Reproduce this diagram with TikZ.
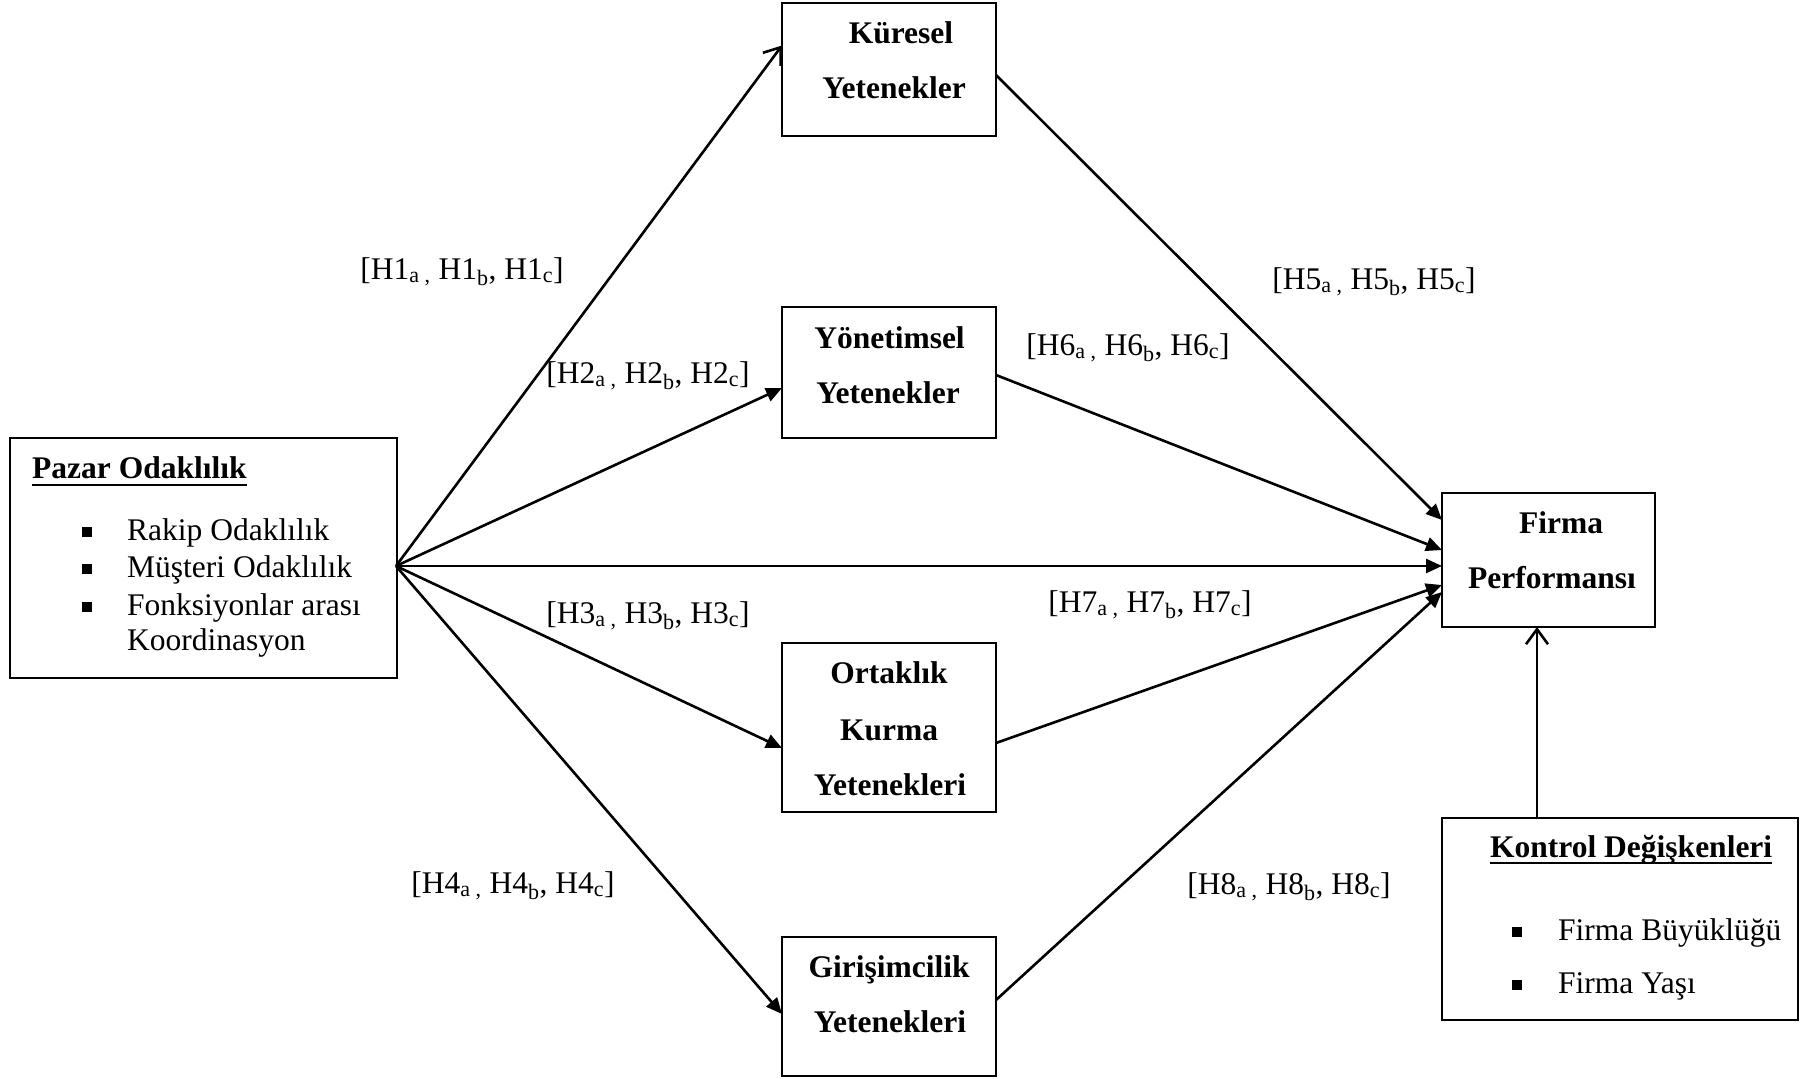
\documentclass[tikz,border=0pt]{standalone}
\usepackage{fontspec}
\setmainfont{Liberation Serif}
\usetikzlibrary{arrows.meta}
\begin{document}
\begin{tikzpicture}[x=1pt,y=-1pt,
  box/.style={draw, line width=2.6pt, inner sep=0pt, outer sep=0pt},
  ttl/.style={font=\fontsize{31.5}{38}\selectfont\bfseries, inner sep=0pt, anchor=base},
  ttlw/.style={font=\fontsize{31.5}{38}\selectfont\bfseries, inner sep=0pt, anchor=base west},
  txt/.style={font=\fontsize{31.5}{38}\selectfont, inner sep=0pt, anchor=base west},
  hyp/.style={font=\fontsize{31.5}{38}\selectfont, inner sep=0pt, anchor=base},
  arr/.style={line width=2.6pt, -{Triangle[length=16pt,width=14pt]}},
  openarr/.style={line width=2.6pt, -{Straight Barb[length=15pt,width=22pt]}},
  uline/.style={line width=2.2pt}]
\fill[white] (0,0) rectangle (1802,1079);
\useasboundingbox (0,0) rectangle (1802,1079);

% boxes
\node[box, minimum width=387pt, minimum height=240pt] (paz) at (203.5,558) {};
\node[box, minimum width=214pt, minimum height=133pt] (kur) at (889,69.5) {};
\node[box, minimum width=214pt, minimum height=131pt] (yon) at (889,372.5) {};
\node[box, minimum width=214pt, minimum height=169pt] (ort) at (889,727.5) {};
\node[box, minimum width=214pt, minimum height=139pt] (gir) at (889,1006.5) {};
\node[box, minimum width=213pt, minimum height=134pt] (fir) at (1548.5,560) {};
\node[box, minimum width=356pt, minimum height=202pt] (kon) at (1620,919) {};

% box texts
\node[ttl] (kur1) at (901,43) {Küresel};
\node[ttl] (kur2) at (894,98) {Yetenekler};
\node[ttl] (yon1) at (889.5,348) {Yönetimsel};
\node[ttl] (yon2) at (888,403) {Yetenekler};
\node[ttl] (ort1) at (889,683) {Ortaklık};
\node[ttl] (ort2) at (889,740) {Kurma};
\node[ttl] (ort3) at (890,795) {Yetenekleri};
\node[ttl] (gir1) at (889,977) {Girişimcilik};
\node[ttl] (gir2) at (890,1032) {Yetenekleri};
\node[ttl] (fir1) at (1561,533) {Firma};
\node[ttl] (fir2) at (1552,588) {Performansı};

% Pazar Odaklilik
\node[ttlw] (pazt) at (32,478) {Pazar Odaklılık};
\draw[uline] ([yshift=-7pt]pazt.base west) -- ([yshift=-7pt]pazt.base east);
\node[txt] (paz1) at (82,540) {\rule[3pt]{10pt}{10pt}\hspace{35pt}Rakip Odaklılık};
\node[txt] (paz2) at (82,577) {\rule[3pt]{10pt}{10pt}\hspace{35pt}Müşteri Odaklılık};
\node[txt] (paz3) at (82,615) {\rule[3pt]{10pt}{10pt}\hspace{35pt}Fonksiyonlar arası};
\node[txt] (paz4) at (127,650) {Koordinasyon};

% Kontrol
\node[ttlw] (kont) at (1490,857) {Kontrol Değişkenleri};
\draw[uline] ([yshift=-6pt]kont.base west) -- ([yshift=-6pt]kont.base east);
\node[txt] (kon1) at (1512,940) {\rule[3pt]{10pt}{10pt}\hspace{36pt}Firma Büyüklüğü};
\node[txt] (kon2) at (1512,993) {\rule[3pt]{10pt}{10pt}\hspace{36pt}Firma Yaşı};

% hypothesis labels
\node[hyp] (h1) at (462,279) {[H1\textsubscript{a ,} H1\textsubscript{b}, H1\textsubscript{c}]};
\node[hyp] (h2) at (648,383) {[H2\textsubscript{a ,} H2\textsubscript{b}, H2\textsubscript{c}]};
\node[hyp] (h3) at (648,623) {[H3\textsubscript{a ,} H3\textsubscript{b}, H3\textsubscript{c}]};
\node[hyp] (h4) at (513,893) {[H4\textsubscript{a ,} H4\textsubscript{b}, H4\textsubscript{c}]};
\node[hyp] (h5) at (1374,289) {[H5\textsubscript{a ,} H5\textsubscript{b}, H5\textsubscript{c}]};
\node[hyp] (h6) at (1128,355) {[H6\textsubscript{a ,} H6\textsubscript{b}, H6\textsubscript{c}]};
\node[hyp] (h7) at (1150,612) {[H7\textsubscript{a ,} H7\textsubscript{b}, H7\textsubscript{c}]};
\node[hyp] (h8) at (1289,894) {[H8\textsubscript{a ,} H8\textsubscript{b}, H8\textsubscript{c}]};

% connectors from Pazar
\coordinate (src) at ([yshift=-8pt,xshift=-1pt]paz.east);
\draw[openarr] (src) -- ([yshift=24pt]kur.west);
\draw[arr] (src) -- ([yshift=-15.5pt]yon.west);
\draw[arr] (src) -- ([yshift=-6pt]fir.west);
\draw[arr] (src) -- ([yshift=-20.5pt]ort.west);
\draw[arr] (src) -- ([yshift=-7.5pt]gir.west);

% connectors into Firma
\draw[arr] ([yshift=-5.5pt]kur.east) -- ([yshift=40pt]fir.west);
\draw[arr] ([yshift=-2.5pt]yon.east) -- ([yshift=10pt]fir.west);
\draw[arr] ([yshift=-15.5pt]ort.east) -- ([yshift=-25pt]fir.west);
\draw[arr] ([yshift=6.5pt]gir.east) -- ([yshift=-32pt]fir.west);

% control
\draw[openarr] ([xshift=-83pt]kon.north) -- ([xshift=-11.5pt]fir.south);
\end{tikzpicture}
\end{document}
